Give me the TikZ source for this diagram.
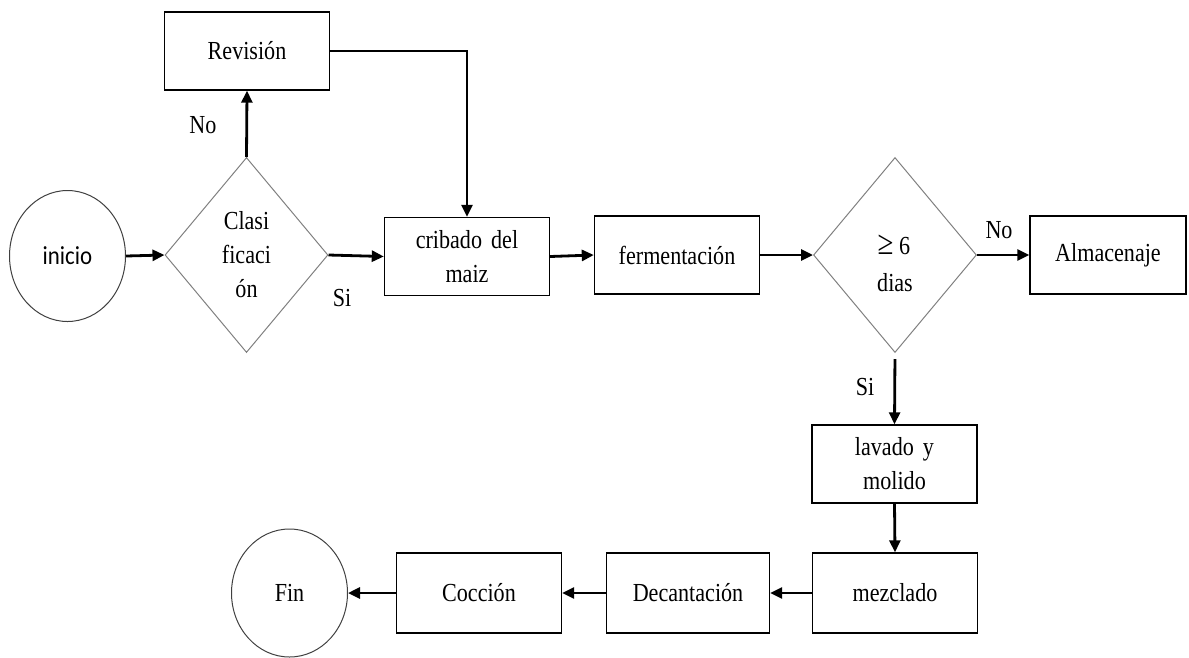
\documentclass[tikz,border=0pt]{standalone}
\usepackage{fontspec}
\setmainfont{Liberation Serif}[FakeStretch=0.85]
\newfontfamily\sansf{Carlito}[FakeStretch=0.88]
\usetikzlibrary{shapes.geometric,arrows.meta}

\begin{document}
\begin{tikzpicture}[x=1pt,y=-1pt,
  every node/.style={font=\fontsize{26}{34}\selectfont, align=center},
  stepbox/.style={draw=black, line width=1.4pt, rectangle, inner sep=0pt,
    minimum width=165pt, minimum height=78pt},
  decision/.style={draw=black!50, line width=1pt, diamond, inner sep=0pt,
    minimum width=163pt, minimum height=195pt},
  terminal/.style={draw=black!75, line width=1pt, ellipse, inner sep=0pt,
    minimum width=116pt, minimum height=131pt},
  flow/.style={line width=2.8pt, -{Triangle[length=12pt,width=11pt]}},
  tag/.style={inner sep=0pt}
]
\useasboundingbox (0,0) rectangle (1189,657);

% top row
\node[terminal] (inicio) at (67.5,256) {\sansf inicio};
\node[decision] (clas) at (246.5,255) {Clasi\\ficaci\\ón};
\node[stepbox] (rev) at (247,51) {Revisión};
\node[stepbox] (crib) at (467,256.5) {cribado\hspace{0.35em}del\\maiz};
\node[stepbox] (ferm) at (677,255) {fermentación};
\node[decision] (dias) at (895,255) {};
\node[tag] (diasa) at (894,245) {\fontsize{34}{34}\selectfont≥\,\fontsize{26}{34}\selectfont 6};
\node[tag] (diasb) at (895,283) {dias};
\node[stepbox, minimum width=156pt] (alm) at (1108,255) {Almacenaje};

% right column and bottom row
\node[stepbox] (lav) at (894.5,464) {lavado\hspace{0.35em}y\\molido};
\node[stepbox, minimum height=80pt] (mez) at (895,593) {mezclado};
\node[stepbox, minimum width=163pt, minimum height=80pt] (dec) at (688,593) {Decantación};
\node[stepbox, minimum height=80pt] (coc) at (479,593) {Cocción};
\node[terminal, minimum height=128pt] (fin) at (289.5,593) {Fin};

% branch labels
\node[tag] (no1) at (203,125) {No};
\node[tag] (si1) at (342,298) {Si};
\node[tag] (no2) at (999,230) {No};
\node[tag] (si2) at (865,387) {Si};

% connectors
\draw[flow] (inicio.east) -- (clas.west);
\draw[flow] (clas.north) -- (rev.south);
\draw[flow] (rev.east) -| (crib.north);
\draw[flow] (clas.east) -- (crib.west);
\draw[flow] (crib.east) -- (ferm.west);
\draw[flow] (ferm.east) -- (dias.west);
\draw[flow] (dias.east) -- (alm.west);
\draw[flow, shorten <=6pt] (dias.south) -- (lav.north);
\draw[flow] (lav.south) -- (mez.north);
\draw[flow] (mez.west) -- (dec.east);
\draw[flow] (dec.west) -- (coc.east);
\draw[flow] (coc.west) -- (fin.east);
\end{tikzpicture}
\end{document}
